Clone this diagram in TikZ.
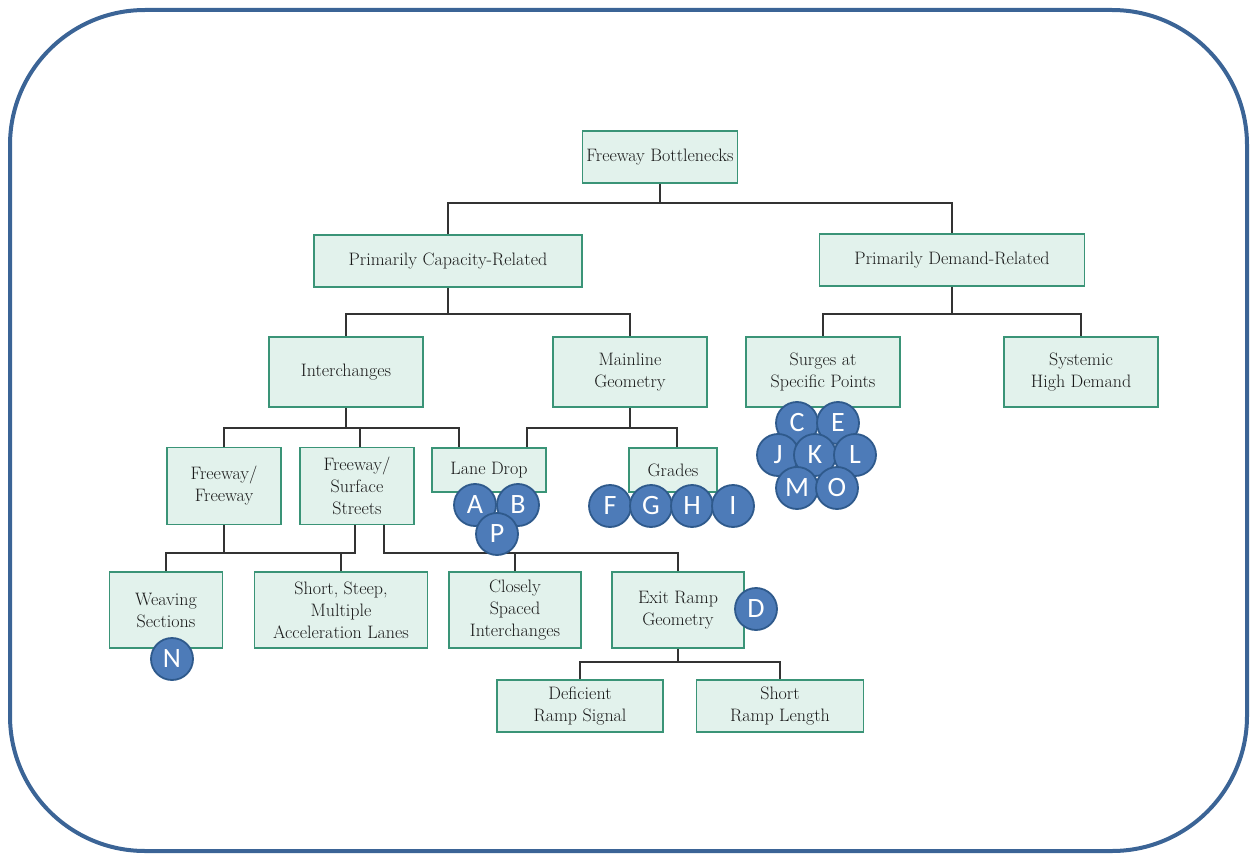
\documentclass[tikz,border=0pt]{standalone}
\usepackage{fontspec}
\newfontfamily\badgefont{Carlito}
\definecolor{FrameBlue}{HTML}{3B6496}
\definecolor{BoxGreen}{HTML}{3A9477}
\definecolor{BoxFill}{HTML}{E2F2EC}
\definecolor{BadgeBlue}{HTML}{4D7BB8}
\definecolor{BadgeEdge}{HTML}{2F5A8C}
\definecolor{LinkGray}{HTML}{333333}
\usetikzlibrary{positioning}

\begin{document}
\begin{tikzpicture}[x=1pt, y=-1pt,
  block/.style={rectangle, draw=BoxGreen, line width=1.8pt, fill=BoxFill,
    text=black!90, font=\fontsize{18}{22}\selectfont, align=center, inner sep=0pt},
  badge/.style={circle, draw=BadgeEdge, line width=1.8pt, fill=BadgeBlue,
    minimum size=42pt, inner sep=0pt, text=white, font=\badgefont\fontsize{28}{28}\selectfont},
  link/.style={draw=LinkGray, line width=1.6pt}
]
  \useasboundingbox (0,0) rectangle (1251,856);
  \draw[FrameBlue, line width=4pt, rounded corners=135pt] (10,10) rectangle (1247,851);

  \node[block, minimum width=155pt, minimum height=52pt] (fb) at (660,157) {Freeway Bottlenecks};
  \node[block, minimum width=268pt, minimum height=52pt] (pcap) at (448,261) {Primarily Capacity-Related};
  \node[block, minimum width=265pt, minimum height=52pt] (pdem) at (952,260) {Primarily Demand-Related};

  \node[block, minimum width=154pt, minimum height=70pt] (inter) at (346,372) {Interchanges};
  \node[block, minimum width=154pt, minimum height=70pt] (mainl) at (630,372) {Mainline\\Geometry};
  \node[block, minimum width=154pt, minimum height=70pt] (surge) at (823,372) {Surges at\\Specific Points};
  \node[block, minimum width=154pt, minimum height=70pt] (syst) at (1081,372) {Systemic\\High Demand};

  \node[block, minimum width=114pt, minimum height=77pt] (ff) at (224,486) {Freeway/\\Freeway};
  \node[block, minimum width=114pt, minimum height=77pt] (fss) at (357,486) {Freeway/\\Surface\\Streets};
  \node[block, minimum width=114pt, minimum height=44pt] (lane) at (489,470) {Lane Drop};
  \node[block, minimum width=88pt, minimum height=44pt] (grades) at (673,470) {Grades};

  \node[block, minimum width=113pt, minimum height=76pt] (weave) at (166,610) {Weaving\\Sections};
  \node[block, minimum width=173pt, minimum height=76pt] (short) at (341,610) {Short, Steep,\\Multiple\\Acceleration Lanes};
  \node[block, minimum width=132pt, minimum height=76pt] (close) at (515,610) {Closely\\Spaced\\Interchanges};
  \node[block, minimum width=132pt, minimum height=76pt] (exit) at (678,610) {Exit Ramp\\Geometry};

  \node[block, minimum width=166pt, minimum height=52pt] (defic) at (580,706) {Deficient\\Ramp Signal};
  \node[block, minimum width=167pt, minimum height=52pt] (shortr) at (780,706) {Short\\Ramp Length};

  \coordinate (j1) at (660,203);
  \coordinate (j2) at (448,314);
  \coordinate (j3) at (952,314);
  \coordinate (j4) at (346,428);
  \coordinate (j5) at (630,428);
  \coordinate (j6) at (355,553);
  \coordinate (j7) at (384,553);
  \coordinate (j8) at (678,662);

  \draw[link] (fb.south) -- (j1) -| (pcap.north);
  \draw[link] (j1) -| (pdem.north);
  \draw[link] (pcap.south) -- (j2) -| (inter.north);
  \draw[link] (j2) -| (mainl.north);
  \draw[link] (pdem.south) -- (j3) -| (surge.north);
  \draw[link] (j3) -| (syst.north);
  \draw[link] (inter.south) -- (j4) -| (ff.north);
  \draw[link] (j4) -| ([xshift=3pt]fss.north);
  \draw[link] (j4) -| ([xshift=-30pt]lane.north);
  \draw[link] (mainl.south) -- (j5) -| ([xshift=38pt]lane.north);
  \draw[link] (j5) -| ([xshift=4pt]grades.north);
  \draw[link] ([xshift=-2pt]fss.south) -- (j6) -| (weave.north);
  \draw[link] (ff.south) -- (ff.south |- j6);
  \draw[link] (short.north) -- (short.north |- j6);
  \draw[link] ([xshift=27pt]fss.south) -- (j7) -| (exit.north);
  \draw[link] (close.north) -- (close.north |- j7);
  \draw[link] (exit.south) -- (j8) -| (defic.north);
  \draw[link] (j8) -| (shortr.north);

  \node[badge] (b) at (518,505) {B};
  \node[badge] (a) at (475,505) {A};
  \node[badge] (p) at (497,534) {P};

  \node[badge] (f) at (610,506) {F};
  \node[badge] (g) at (651,506) {G};
  \node[badge] (h) at (692,506) {H};
  \node[badge] (i) at (733,506) {I};

  \node[badge] (c) at (797,423) {C};
  \node[badge] (e) at (838,423) {E};
  \node[badge] (j) at (778,455) {J};
  \node[badge] (k) at (815,455) {K};
  \node[badge] (l) at (855,455) {L};
  \node[badge] (m) at (797,488) {M};
  \node[badge] (o) at (837,488) {O};

  \node[badge] (d) at (756,609) {D};
  \node[badge] (n) at (172,659) {N};
\end{tikzpicture}
\end{document}
